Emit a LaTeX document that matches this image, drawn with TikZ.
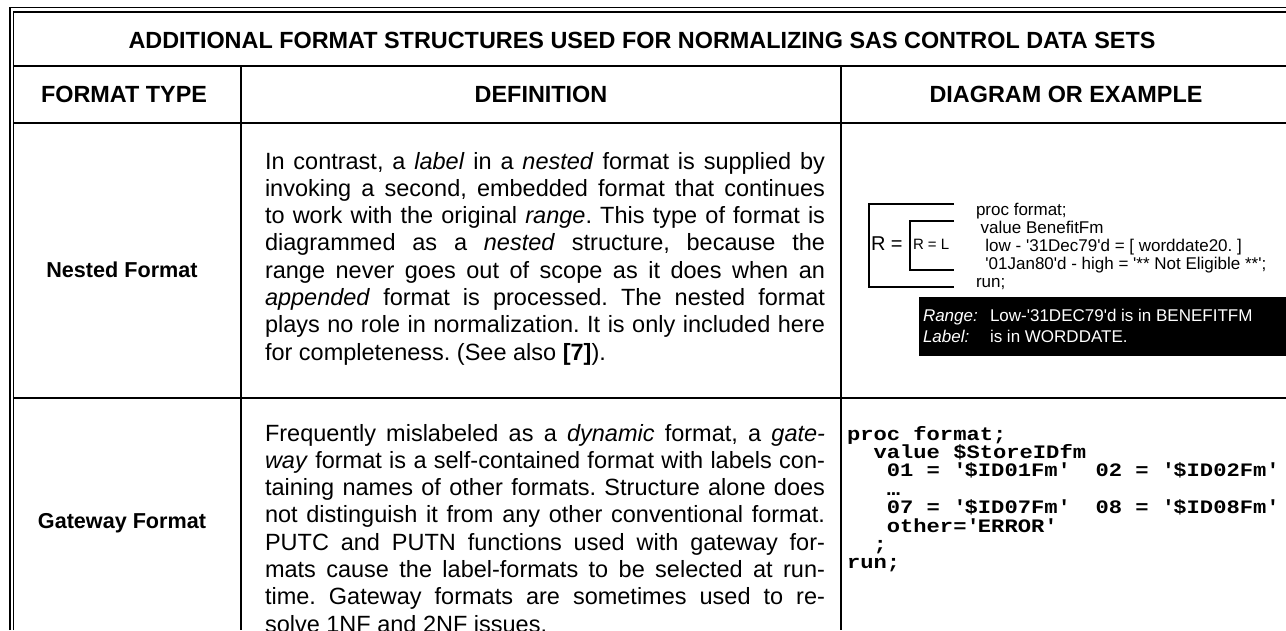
\documentclass[tikz,border=0pt]{standalone}
\usepackage{fontspec}
\setmainfont{Liberation Sans}
\setmonofont{Liberation Mono}
\newfontfamily\codefont{Liberation Mono}[FakeStretch=1.165]
\usetikzlibrary{positioning}
\newcommand\q{\textquotesingle}
\lineskiplimit=-100pt
\AtBeginDocument{\tolerance=10000 \hbadness=10000 \frenchspacing}
\begin{document}
\begin{tikzpicture}[x=1pt,y=-1pt,inner sep=0pt,outer sep=0pt,
frame/.style={line width=1.5pt},
rule/.style={line width=2pt},
bracket/.style={line width=2.6pt},
title/.style={anchor=base,font=\fontsize{23.4}{27}\selectfont\bfseries},
rowhead/.style={anchor=base,font=\fontsize{21.6}{25}\selectfont\bfseries},
deftext/.style={anchor=base west,text width=560pt,align=justify,
  font=\fontsize{23.5}{27.3}\selectfont},
codetext/.style={anchor=base west,text width=436pt,align=flush left,
  font=\fontsize{19}{18.4}\selectfont\codefont\bfseries},
sastext/.style={anchor=base west,text width=306pt,align=flush left,
  font=\fontsize{17}{18}\selectfont},
boxtext/.style={anchor=base west,text=white,font=\fontsize{17}{18}\selectfont}]
\useasboundingbox (0,0) rectangle (1286,630);
% double frame, top and left
\draw[frame] (10,630) -- (10,7.5) -- (1286,7.5);
\draw[frame] (13.5,630) -- (13.5,12) -- (1286,12);
% table rules
\draw[rule] (13.5,66) -- (1286,66);
\draw[rule] (13.5,123) -- (1286,123);
\draw[rule] (13.5,398) -- (1286,398);
\draw[rule] (241,66) -- (241,630);
\draw[rule] (841,66) -- (841,630);
% headings
\node[title] (title) at (642,48) {ADDITIONAL FORMAT STRUCTURES USED FOR NORMALIZING SAS CONTROL DATA SETS};
\node[title] (colA) at (124,102) {FORMAT TYPE};
\node[title] (colB) at (541,102) {DEFINITION};
\node[title] (colC) at (1066,102) {DIAGRAM OR EXAMPLE};
% nested format row
\node[rowhead] (nested) at (122,277) {Nested Format};
\node[deftext] (nesteddef) at (265,169) {In contrast, a \textit{label} in a \textit{nested} format is supplied by\linebreak
invoking a second, embedded format that continues\linebreak
to work with the original \textit{range}. This type of format is\linebreak
diagrammed as a \textit{nested} structure, because the\linebreak
range never goes out of scope as it does when an\linebreak
\textit{appended} format is processed. The nested format\linebreak
plays no role in normalization. It is only included here\linebreak
for completeness. (See also \textbf{[7]}).};
\draw[bracket] (954,204) -| (869,287) -- (954,287);
\draw[bracket] (954,221) -| (910,270) -- (954,270);
\node[anchor=base west,font=\fontsize{20}{20}\selectfont] (Rout) at (871,250) {R =};
\node[anchor=base west,font=\fontsize{15}{15}\selectfont] (Rin) at (913,249) {R = L};
\node[sastext] (sascode) at (976,215) {proc format;\\
~value BenefitFm\\
~~low - \q31Dec79\q d = {[} worddate20. {]}\\
~~\q01Jan80\q d - high = \q** Not Eligible **\q;\\
run;};
\fill (919,297) rectangle (1286,356);
\node[boxtext] (rangekey) at (923,321) {\itshape Range:};
\node[boxtext] (rangeval) at (990,321) {Low-\q31DEC79\q d is in BENEFITFM};
\node[boxtext] (labelkey) at (923,342) {\itshape Label:};
\node[boxtext] (labelval) at (990,342) {is in WORDDATE.};
% gateway format row
\node[rowhead] (gateway) at (122,528) {Gateway Format};
\node[deftext] (gatewaydef) at (265,441) {Frequently mislabeled as a \textit{dynamic} format, a \textit{gate-}\linebreak
\textit{way} format is a self-contained format with labels con-\linebreak
taining names of other formats. Structure alone does\linebreak
not distinguish it from any other conventional format.\linebreak
PUTC and PUTN functions used with gateway for-\linebreak
mats cause the label-formats to be selected at run-\linebreak
time. Gateway formats are sometimes used to re-\linebreak
solve 1NF and 2NF issues.};
\node[codetext] (gatewaycode) at (847,440) {proc format;\\
~~value \$StoreIDfm\\
~~~01 = \q\$ID01Fm\q~~02 = \q\$ID02Fm\q\\
~~~…\\
~~~07 = \q\$ID07Fm\q~~08 = \q\$ID08Fm\q\\
~~~other=\q ERROR\q\\
~~;\\
run;};
\end{tikzpicture}
\end{document}
